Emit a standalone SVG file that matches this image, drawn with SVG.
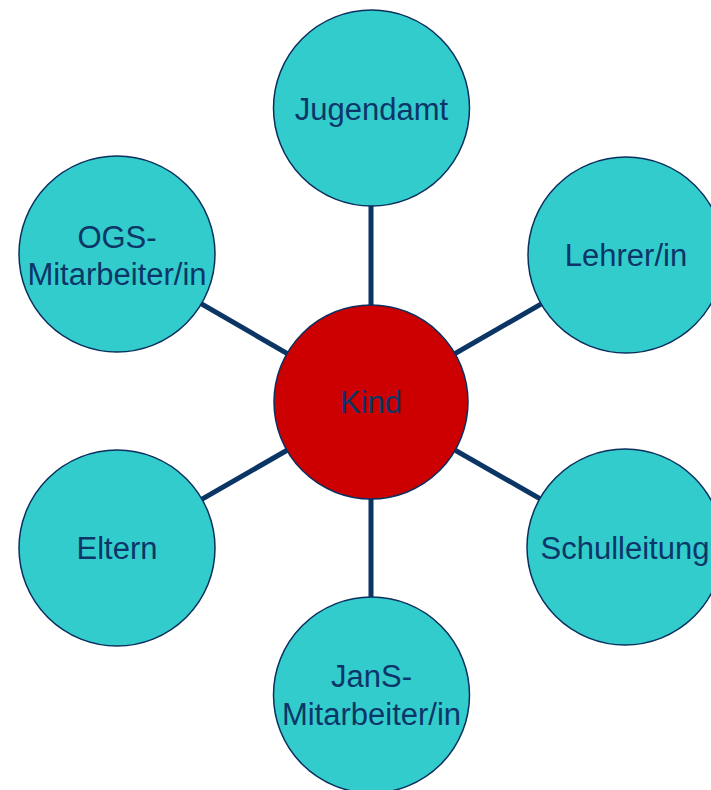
<svg xmlns="http://www.w3.org/2000/svg" width="711" height="790" viewBox="0 0 711 790">
<style>
.c{fill:#33cccc;stroke:#0b2f5e;stroke-width:1.5}
.k{fill:#cc0000;stroke:#0b2f5e;stroke-width:1.5}
.t{font-family:"Liberation Sans",Arial,sans-serif;font-size:31px;fill:#0d3668;text-anchor:middle}
.l{stroke:#0b3565;stroke-width:5;fill:none}
</style>
<rect width="711" height="790" fill="#ffffff"/>
<g id="connectors">
<line class="l" x1="371" y1="402" x2="371" y2="108"/>
<line class="l" x1="371" y1="402" x2="626" y2="255"/>
<line class="l" x1="371" y1="402" x2="626" y2="548"/>
<line class="l" x1="371" y1="402" x2="371" y2="695"/>
<line class="l" x1="371" y1="402" x2="117" y2="548"/>
<line class="l" x1="371" y1="402" x2="117" y2="255"/>
</g>
<g id="jugendamt"><circle class="c" cx="371.5" cy="108" r="98"/><text class="t" x="371.5" y="120">Jugendamt</text></g>
<g id="lehrer"><circle class="c" cx="626" cy="255" r="98"/><text class="t" x="626" y="266">Lehrer/in</text></g>
<g id="schulleitung"><circle class="c" cx="625" cy="547" r="98"/><text class="t" x="625" y="559">Schulleitung</text></g>
<g id="jans"><circle class="c" cx="371.5" cy="695" r="98"/><text class="t" x="371.5" y="687">JanS-</text><text class="t" x="371.5" y="725">Mitarbeiter/in</text></g>
<g id="eltern"><circle class="c" cx="117" cy="548" r="98"/><text class="t" x="117" y="559">Eltern</text></g>
<g id="ogs"><circle class="c" cx="117" cy="254" r="98"/><text class="t" x="117" y="248">OGS-</text><text class="t" x="117" y="285">Mitarbeiter/in</text></g>
<g id="kind"><circle class="k" cx="371" cy="402" r="97"/><text class="t" x="371" y="413">Kind</text></g>
</svg>
